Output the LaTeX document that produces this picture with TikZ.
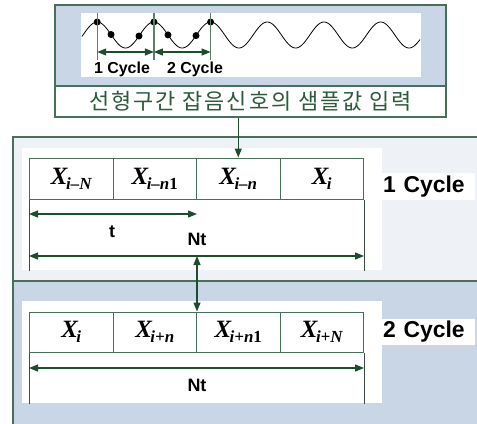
\documentclass[tikz,border=0pt]{standalone}
\usepackage{fontspec}
\setmainfont{Liberation Serif}
\setsansfont{Liberation Sans}
\newfontfamily\krfont[LetterSpace=9]{Noto Sans CJK KR}
\usetikzlibrary{arrows.meta}
\definecolor{panelblue}{HTML}{C9D6E6}
\definecolor{panellight}{HTML}{EEF1F6}
\definecolor{framegreen}{HTML}{46705A}
\definecolor{arrowgreen}{HTML}{1D4D2E}
\definecolor{textgreen}{HTML}{2D5A3D}
\definecolor{guidegreen}{HTML}{5E8068}
\definecolor{extline}{HTML}{3A4F42}
\newcommand{\Xsub}[1]{\textbf{\textit{X}}\kern-2bp\raisebox{-5bp}{\fontsize{17}{17}\selectfont\bfseries\itshape #1}}
\begin{document}
\begin{tikzpicture}[x=1bp,y=-1bp,
  frame/.style={draw=framegreen, line width=1.2bp},
  cell/.style={draw=framegreen, line width=1bp, minimum width=83.5bp, minimum height=41bp, inner sep=0pt, font=\fontsize{25}{25}\selectfont},
  tip/.tip={Triangle[length=9bp,width=7bp]},
  dimarrow/.style={draw=arrowgreen, fill=arrowgreen, line width=1.2bp, tip-tip},
  onearrow/.style={draw=arrowgreen, fill=arrowgreen, line width=1.2bp, -tip},
  guide/.style={draw=guidegreen, line width=1.2bp},
  ext/.style={draw=extline, line width=1bp},
  cyc/.style={font=\sffamily\bfseries\fontsize{16}{16}\selectfont, inner sep=0pt},
  dimlabel/.style={font=\sffamily\bfseries\fontsize{18}{18}\selectfont, inner sep=0pt},
  biglabel/.style={fill=white, font=\sffamily\bfseries\fontsize{23}{23}\selectfont, inner xsep=1bp, inner ysep=0pt, text width=91bp, align=left, anchor=west},
  dot/.style={circle, fill=black, inner sep=0pt, minimum size=7bp}
]
\useasboundingbox (0,0) rectangle (477,423);
\clip (0,0) rectangle (477,423);

% lower panels
\fill[panellight] (13,137) rectangle (480,281);
\fill[panelblue] (13,281) rectangle (480,430);
\draw[frame] (480,137) -- (13,137) -- (13,430);
\draw[frame] (13,281) -- (480,281);

% top panel
\fill[panelblue] (55,5) rectangle (446,86);
\fill[white] (81,13) rectangle (421,77);
\node[frame, fill=white, minimum width=391bp, minimum height=31bp, inner sep=0pt,
      font=\krfont\fontsize{22}{22}\selectfont, text=textgreen] (title) at (250.5,101.5)
      {선형구간 잡음신호의 샘플값 입력};
\draw[frame] (55,86) rectangle (446,5);

% wave
\draw[black, line width=0.8bp] plot[domain=82:420, samples=300, smooth]
   (\x, {35-13*sin((\x-83)/56.7*360)});
\foreach \d/\n in {97.2/p1,111/p2,139/p3,153.9/p4,168/p5,196/p6,210.6/p7}
  \node[dot] (\n) at (\d, {35-13*sin((\d-83)/56.7*360)}) {};
\foreach \gx/\gn in {97.2/g1,153.9/g2,210.6/g3}{
  \coordinate (\gn top) at (\gx,13);
  \coordinate (\gn bot) at (\gx,60);
  \coordinate (\gn) at (\gx,52);
  \draw[guide] (\gn top) -- (\gn bot);
}
\draw[dimarrow] (g1) -- (g2);
\draw[dimarrow] (g2) -- (g3);
\node[cyc] (cyc1) at (122,69) {1 Cycle};
\node[cyc] (cyc2) at (195,69) {2 Cycle};

% white working areas
\fill[white] (22,148) rectangle (382,270);
\fill[white] (22,301) rectangle (382,403);

% table 1
\node[cell] (c11) at (71.25,178.5) {\Xsub{i–N}};
\node[cell] (c12) at (154.75,178.5) {\Xsub{i–n\textup{1}}};
\node[cell] (c13) at (238.25,178.5) {\Xsub{i–n}};
\node[cell] (c14) at (321.75,178.5) {\Xsub{i}};
\draw[ext] (c11.south west) -- ++(0,71);
\draw[ext] (c14.south east) -- ++(0,71);
\coordinate (t1) at (c11.south west |- 0,214);
\coordinate (t2) at (c12.south east |- 0,214);
\draw[dimarrow] (t1) -- (t2);
\node[dimlabel] (tl) at (112,232) {t};
\coordinate (n1a) at (c11.south west |- 0,256);
\coordinate (n1b) at (c14.south east |- 0,256);
\draw[dimarrow] (n1a) -- (n1b);
\node[dimlabel] (ntl1) at (197,239) {Nt};
\node[biglabel, minimum height=27bp] (lab1) at (382,186.5) {1 Cycle};

% table 2
\node[cell, minimum height=40bp] (c21) at (71.25,332) {\Xsub{i}};
\node[cell, minimum height=40bp] (c22) at (154.75,332) {\Xsub{i+n}};
\node[cell, minimum height=40bp] (c23) at (238.25,332) {\Xsub{i+n\textup{1}}};
\node[cell, minimum height=40bp] (c24) at (321.75,332) {\Xsub{i+N}};
\draw[ext] (c21.south west) -- ++(0,51);
\draw[ext] (c24.south east) -- ++(0,51);
\coordinate (n2a) at (c21.south west |- 0,368);
\coordinate (n2b) at (c24.south east |- 0,368);
\draw[dimarrow] (n2a) -- (n2b);
\node[dimlabel] (ntl2) at (197,385) {Nt};
\node[biglabel, minimum height=26bp] (lab2) at (382,332) {2 Cycle};

% connectors
\draw[onearrow] (title.south -| c13.north) -- (c13.north);
\coordinate (link1) at (c12.south east |- 0,256);
\draw[dimarrow] (link1) -- (c22.north east);
\end{tikzpicture}
\end{document}
